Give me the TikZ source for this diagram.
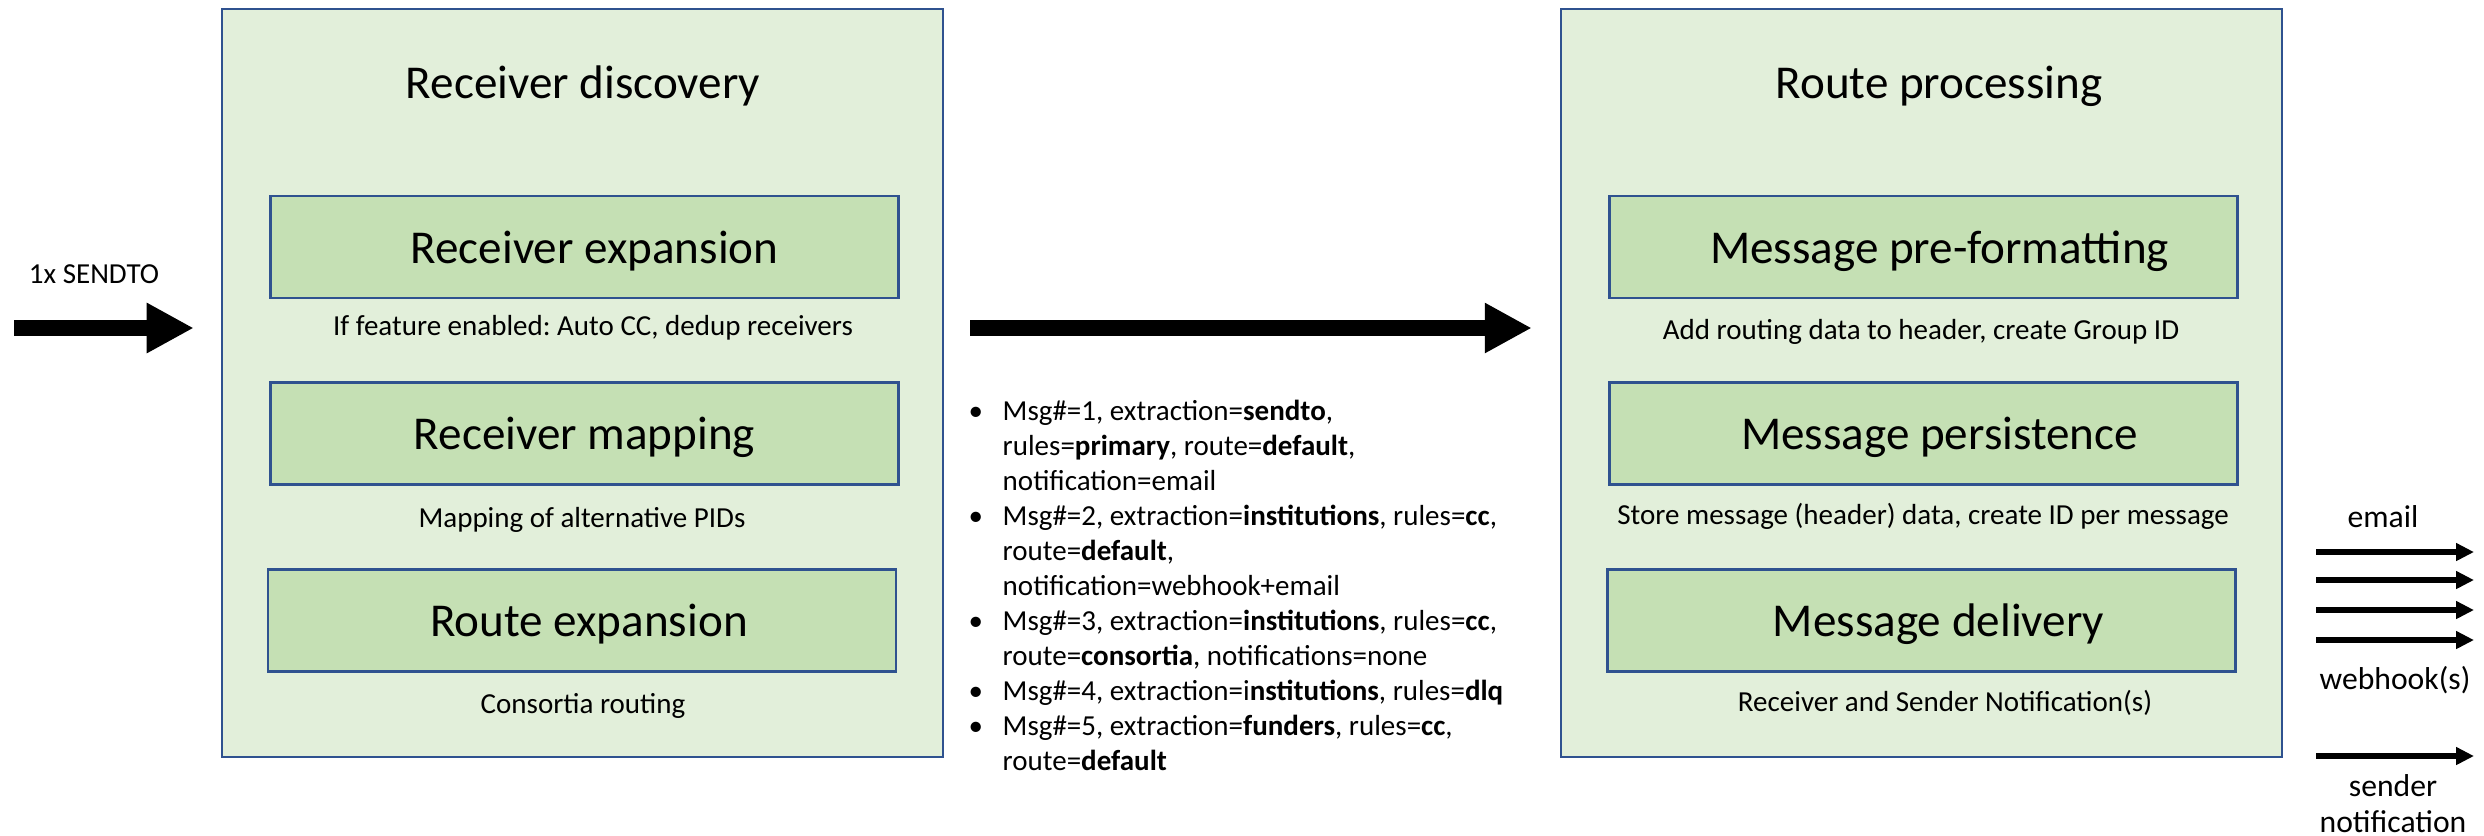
\documentclass[tikz,border=0pt]{standalone}
\usepackage{fontspec}
\setmainfont{Carlito}
\usetikzlibrary{positioning, arrows.meta}

\definecolor{stagefill}{HTML}{E2EFDA}
\definecolor{stepfill}{HTML}{C5E0B4}
\definecolor{boxline}{HTML}{2F528F}

\tikzset{
  stage/.style={draw=boxline, fill=stagefill, line width=0.02cm, inner sep=0pt,
    minimum width=7.21cm, minimum height=7.48cm},
  stepbox/.style={draw=boxline, fill=stepfill, line width=0.025cm, inner sep=0pt,
    minimum width=6.28cm, minimum height=1.02cm, text height=0.42cm, text depth=0.1cm,
    font=\fontsize{13.4}{16}\selectfont},
  stagetitle/.style={anchor=base, inner sep=0pt, font=\fontsize{13.4}{16}\selectfont},
  caption/.style={anchor=base, inner sep=0pt, font=\fontsize{8.25}{9.96}\selectfont},
  outlabel/.style={anchor=base, inner sep=0pt, font=\fontsize{9}{11}\selectfont},
  bigarrow/.style={line width=0.16cm, -{Triangle[width=0.47cm, length=0.47cm]}},
  smallarrow/.style={line width=0.06cm, -{Triangle[width=0.17cm, length=0.18cm]}}
}

\begin{document}
\frenchspacing
\begin{tikzpicture}[x=0.01cm, y=-0.01cm]
  % Fondo y tamaño de la figura
  \fill[white] (0,0) rectangle (2484,835);
  \useasboundingbox (0,0) rectangle (2484,835);

  % Bloques principales
  \node[stage] (disc) at (582.5,383) {};
  \node[stage] (proc) at (1921.5,383) {};
  \node[stagetitle] (discT) at (583,98) {Receiver discovery};
  \node[stagetitle] (procT) at (1939,98) {Route processing};

  % Pasos del primer bloque
  \node[stepbox] (rexp) at (584.5,247) {\hspace*{0.2cm}Receiver expansion};
  \node[stepbox] (rmap) at (584.5,433.5) {Receiver mapping};
  \node[stepbox] (rtexp) at (582,620.5) {\hspace*{0.14cm}Route expansion};
  \node[caption] (rexpC) at (593,335) {If feature enabled: Auto CC, dedup receivers};
  \node[caption] (rmapC) at (582,527) {Mapping of alternative PIDs};
  \node[caption] (rtexpC) at (583,713) {Consortia routing};

  % Pasos del segundo bloque
  \node[stepbox] (pfmt) at (1923.5,247) {\hspace*{0.32cm}Message pre-formatting};
  \node[stepbox] (pers) at (1923.5,433.5) {\hspace*{0.32cm}Message persistence};
  \node[stepbox] (dlv) at (1921.5,620.5) {\hspace*{0.34cm}Message delivery};
  \node[caption] (pfmtC) at (1921,339) {Add routing data to header, create Group ID};
  \node[caption] (persC) at (1923,524) {Store message (header) data, create ID per message};
  \node[caption] (dlvC) at (1945,711) {Receiver and Sender Notification(s)};

  % Entrada y flecha central
  \coordinate (in) at (14,328);
  \node[caption] (inL) at (94,283) {1x SENDTO};
  \draw[bigarrow, shorten >=0.27cm] (in) -- (disc.west |- in);
  \draw[bigarrow, shorten <=0.26cm, shorten >=0.28cm] (disc.east |- in) -- (proc.west |- in);

  % Lista de mensajes
  \node[caption, anchor=base west] (msgs) at (968,420) {%
    \begin{tabular}[t]{@{}p{0.34cm}@{}l@{}}
      \textbullet & Msg\#=1, extraction=\textbf{sendto},\\
                  & rules=\textbf{primary}, route=\textbf{default},\\
                  & notification=email\\
      \textbullet & Msg\#=2, extraction=\textbf{institutions}, rules=\textbf{cc},\\
                  & route=\textbf{default},\\
                  & notification=webhook+email\\
      \textbullet & Msg\#=3, extraction=\textbf{institutions}, rules=\textbf{cc},\\
                  & route=\textbf{consortia}, notifications=none\\
      \textbullet & Msg\#=4, extraction=i\textbf{nstitutions}, rules=\textbf{dlq}\\
      \textbullet & Msg\#=5, extraction=\textbf{funders}, rules=\textbf{cc},\\
                  & route=\textbf{default}
    \end{tabular}};

  % Salidas
  \foreach \y in {552,580,610,640,756} {
    \coordinate (out\y) at (2474,\y);
    \draw[smallarrow, shorten <=0.33cm] (proc.east |- out\y) -- (out\y);
  }
  \node[outlabel] (mailL) at (2383,527) {email};
  \node[outlabel] (hookL) at (2395,689) {webhook(s)};
  \node[outlabel] (sndL) at (2393,796) {sender};
  \node[outlabel] (ntfL) at (2393,832) {notification};
\end{tikzpicture}
\end{document}
